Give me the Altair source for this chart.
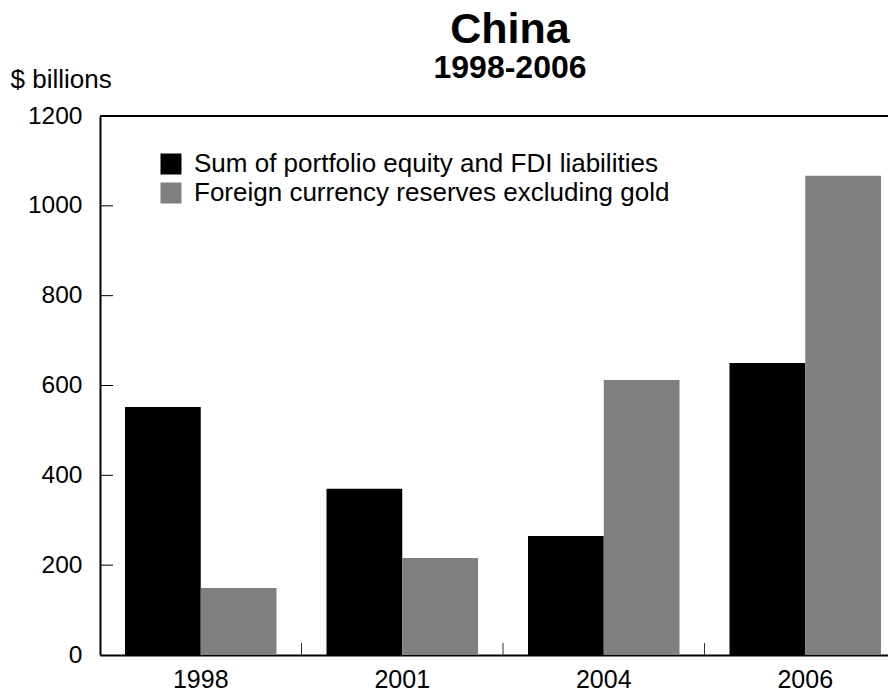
import altair as alt
import pandas as pd

years = ["1998", "2001", "2004", "2006"]
series = ["Sum of portfolio equity and FDI liabilities",
          "Foreign currency reserves excluding gold"]
equity_fdi = [552, 370, 265, 650]
reserves = [149, 216, 612, 1067]
y_tick_values = [0, 200, 400, 600, 800, 1000, 1200]
inner_y_ticks = [200, 400, 600, 800, 1000]
band_edges = ["2001", "2004", "2006"]

rows = []
for i, yr in enumerate(years):
    rows.append({"year": yr, "series": series[0], "value": equity_fdi[i]})
    rows.append({"year": yr, "series": series[1], "value": reserves[i]})
df = pd.DataFrame(rows)

W, H = 788, 539      # visible plot area (reference plot runs past the right edge)
BAND_RANGE = 806     # full width the four bands span in the reference
FONT = "Liberation Sans"

x_enc = alt.X("year:N", sort=years,
              scale=alt.Scale(paddingInner=0, paddingOuter=0, range=[0, BAND_RANGE]),
              axis=alt.Axis(title=None, labelAngle=0, labelFontSize=25, labelFont=FONT,
                            labelColor="black", ticks=False, tickSize=0, labelPadding=12,
                            domainColor="black", domainWidth=2))

bars = alt.Chart(df).mark_bar().encode(
    x=x_enc,
    xOffset=alt.XOffset("series:N", sort=series,
                        scale=alt.Scale(paddingInner=0, paddingOuter=0.33)),
    y=alt.Y("value:Q",
            scale=alt.Scale(domain=[0, 1200], nice=False),
            axis=alt.Axis(values=y_tick_values, format="d", title="$ billions", titleAngle=0,
                          titleAlign="left", titleBaseline="alphabetic",
                          titleX=-90, titleY=-29, titleFontSize=26, titleFont=FONT,
                          titleFontWeight="normal", titleColor="black",
                          labelFontSize=24.5, labelFont=FONT, labelColor="black",
                          ticks=False, tickSize=0, labelPadding=18, grid=False,
                          domainColor="black", domainWidth=2)),
    color=alt.Color("series:N", sort=series,
                    scale=alt.Scale(domain=series, range=["#000000", "#808080"]),
                    legend=alt.Legend(title=None, orient="none", legendX=58, legendY=35,
                                      symbolType="square", symbolSize=441,
                                      symbolStrokeWidth=0, labelFontSize=26,
                                      labelFont=FONT, labelColor="black",
                                      labelOffset=10, rowPadding=3, padding=0,
                                      labelLimit=800)),
)

ytick_df = pd.DataFrame({"v": inner_y_ticks})
yticks = alt.Chart(ytick_df).mark_rule(color="black", strokeWidth=1).encode(
    y=alt.Y("v:Q"),
    x=alt.value(0),
    x2=alt.value(13),
)

xtick_df = pd.DataFrame({"year": band_edges})
xticks = alt.Chart(xtick_df).mark_rule(color="#333333", strokeWidth=1).encode(
    x=alt.X("year:N", sort=years, bandPosition=0),
    y=alt.value(H - 12),
    y2=alt.value(H),
)

top_border = alt.Chart(pd.DataFrame({"v": [1200]})).mark_rule(
    color="black", strokeWidth=2).encode(
    y=alt.Y("v:Q"),
    x=alt.value(0),
    x2=alt.value(W + 2),
)

chart = alt.layer(bars, yticks, xticks, top_border).properties(
    width=W, height=H,
    title=alt.TitleParams("China", subtitle="1998-2006", font=FONT, fontSize=43,
                          fontWeight="bold", color="black", subtitleFont=FONT,
                          subtitleFontSize=32, subtitleFontWeight="bold",
                          subtitleColor="black", anchor="middle", dx=16, offset=-18,
                          subtitlePadding=1),
    autosize=alt.AutoSizeParams(type="none"),
    padding={"left": 92, "top": 108, "right": 0, "bottom": 38},
).configure(background="white").configure_view(stroke=None)

chart.save("out.html", embed_options={"renderer": "svg", "actions": False})
